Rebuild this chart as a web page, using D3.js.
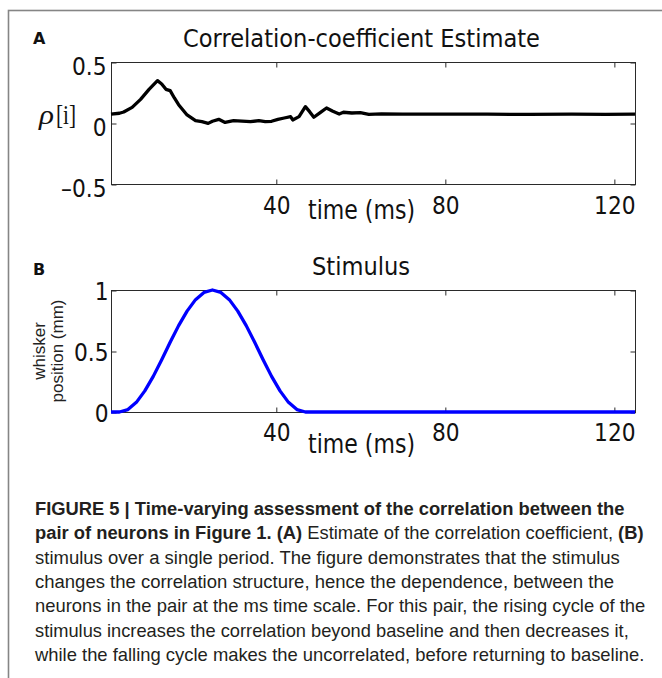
<!DOCTYPE html>
<html><head><meta charset="utf-8">
<script src="https://cdn.jsdelivr.net/npm/d3@7"></script>
<style>body{margin:0;background:#fff} svg{display:block}</style>
</head><body><svg id="c" width="662" height="678"></svg>
<script>
// ---- data ----
const rhoTime  = [1, 3, 4, 6, 8, 10, 12, 13, 14, 15, 16, 17, 19, 21, 22.5, 24, 25, 26.5, 28, 30, 32, 34, 36, 37.5, 39, 40.5, 42, 43.5, 44, 45.5, 47, 48, 49, 50.5, 52, 53.5, 55, 56, 58, 60, 62, 65, 70, 80, 90, 100, 110, 118, 125];
const rhoValue = [0.072, 0.080, 0.090, 0.128, 0.194, 0.276, 0.347, 0.320, 0.276, 0.265, 0.205, 0.150, 0.066, 0.019, 0.011, -0.003, 0.014, 0.030, 0.005, 0.019, 0.016, 0.011, 0.019, 0.011, 0.014, 0.030, 0.041, 0.052, 0.025, 0.052, 0.134, 0.093, 0.047, 0.085, 0.123, 0.096, 0.074, 0.088, 0.082, 0.085, 0.071, 0.074, 0.072, 0.073, 0.072, 0.071, 0.072, 0.070, 0.072];
const stimTime  = [1, 3, 5, 7, 9, 11, 13, 15, 17, 19, 21, 23, 25, 27, 29, 31, 33, 35, 37, 39, 41, 43, 45, 47, 125];
const stimValue = [0, 0, 0.020, 0.079, 0.173, 0.292, 0.429, 0.571, 0.708, 0.827, 0.921, 0.980, 1.0, 0.980, 0.921, 0.827, 0.708, 0.571, 0.429, 0.292, 0.173, 0.079, 0.020, 0, 0];
const xDomain = [1, 125];
const xTicks = [40, 80, 120];
const rhoTicks = [-0.5, 0, 0.5];
const rhoTickLabels = ["\u20130.5", "0", "0.5"];
const stimTicks = [0, 0.5, 1];
const stimTickLabels = ["0", "0.5", "1"];
const panelLetters = ["A", "B"];
const panelTitles = ["Correlation-coefficient Estimate", "Stimulus"];
const xLabel = "time (ms)";
const rhoYLabel = ["\u03C1", "[i]"];
const stimYLabel = ["whisker", "position (mm)"];
const captionLines = [
  [["FIGURE 5 | Time-varying assessment of the correlation between the", true]],
  [["pair of neurons in Figure 1. (A)", true], [" Estimate of the correlation coefficient, ", false], ["(B)", true]],
  [["stimulus over a single period. The figure demonstrates that the stimulus", false]],
  [["changes the correlation structure, hence the dependence, between the", false]],
  [["neurons in the pair at the ms time scale. For this pair, the rising cycle of the", false]],
  [["stimulus increases the correlation beyond baseline and then decreases it,", false]],
  [["while the falling cycle makes the uncorrelated, before returning to baseline.", false]]
];
const captionRight = [625, 644, 620, 614, 646, 629, 645];

// ---- drawing ----
const svg = d3.select("#c");
svg.append("rect").attr("width", 662).attr("height", 678).attr("fill", "#fff");
svg.append("rect").attr("x", 8.5).attr("y", 10.5).attr("width", 720).attr("height", 720)
  .attr("fill", "none").attr("stroke", "#858585").attr("stroke-width", 1.6);

const L = 111, R = 635;
const x = d3.scaleLinear().domain(xDomain).range([L, R]);
const tickFont = "DejaVu Sans";
const squeeze = 0.87;

function squeezeText(sel, k) {
  sel.each(function () {
    const w = this.getComputedTextLength();
    d3.select(this).attr("textLength", w * k).attr("lengthAdjust", "spacingAndGlyphs");
  });
}

function panel(cfg) {
  const y = d3.scaleLinear().domain(cfg.yDomain).range([cfg.bottom, cfg.top]);
  const g = svg.append("g");
  g.append("rect").attr("x", L + 0.5).attr("y", cfg.top + 0.5)
    .attr("width", R - L).attr("height", cfg.bottom - cfg.top)
    .attr("fill", "none").attr("stroke", "#2a2a2a").attr("stroke-width", 1);
  const gb = g.append("g").attr("transform", `translate(0.5,${cfg.bottom + 0.5})`)
    .call(d3.axisBottom(x).tickValues(xTicks).tickSizeInner(-5).tickSizeOuter(0));
  gb.select(".domain").remove();
  gb.attr("font-family", tickFont).attr("font-size", 25).attr("color", "#2a2a2a");
  gb.selectAll("text").attr("y", cfg.xTickDy).attr("dy", null).attr("fill", "#111").call(squeezeText, squeeze);
  const gt = g.append("g").attr("transform", `translate(0.5,${cfg.top + 0.5})`)
    .call(d3.axisTop(x).tickValues(xTicks).tickSizeInner(-5).tickSizeOuter(0).tickFormat(""));
  gt.select(".domain").remove();
  gt.attr("color", "#2a2a2a");
  const gl = g.append("g").attr("transform", `translate(${L + 0.5},0.5)`)
    .call(d3.axisLeft(y).tickValues(cfg.yTicks).tickSizeInner(-5).tickSizeOuter(0)
      .tickFormat((d, i) => cfg.yTickLabels[i]));
  gl.select(".domain").remove();
  gl.attr("font-family", tickFont).attr("font-size", 25).attr("color", "#2a2a2a");
  gl.selectAll("text").attr("x", cfg.yLabelX).attr("dy", null).attr("y", cfg.yLabelDy).attr("fill", "#111").call(squeezeText, squeeze);
  const gr = g.append("g").attr("transform", `translate(${R + 0.5},0.5)`)
    .call(d3.axisRight(y).tickValues(cfg.yTicks).tickSizeInner(-5).tickSizeOuter(0).tickFormat(""));
  gr.select(".domain").remove();
  gr.attr("color", "#2a2a2a");
  const line = d3.line().x(d => x(d[0])).y(d => y(d[1]));
  g.append("path").datum(d3.zip(cfg.t, cfg.v)).attr("d", line)
    .attr("fill", "none").attr("stroke", cfg.color).attr("stroke-width", cfg.lw)
    .attr("stroke-linejoin", "round").attr("stroke-linecap", "butt");
  g.append("text").attr("x", cfg.titleX).attr("y", cfg.titleY).attr("text-anchor", "middle")
    .attr("font-family", tickFont).attr("font-size", 25).attr("fill", "#111")
    .attr("textLength", cfg.titleW).attr("lengthAdjust", "spacingAndGlyphs").text(cfg.title);
  g.append("text").attr("x", 361.5).attr("y", cfg.xLabelY).attr("text-anchor", "middle")
    .attr("font-family", tickFont).attr("font-size", 26).attr("fill", "#111")
    .attr("textLength", 107).attr("lengthAdjust", "spacingAndGlyphs").text(xLabel);
  g.append("text").attr("x", 33).attr("y", cfg.letterY)
    .attr("font-family", "DejaVu Sans").attr("font-weight", "bold").attr("font-size", 16)
    .attr("fill", "#111").text(cfg.letter);
  return {g, y};
}

const pA = panel({
  top: 62, bottom: 184, yDomain: [-0.5, 0.5], yTicks: rhoTicks, yTickLabels: rhoTickLabels,
  yLabelX: -5, yLabelDy: 12, xTickDy: 29, t: rhoTime, v: rhoValue, color: "#000", lw: 3.3,
  title: panelTitles[0], titleX: 361.5, titleY: 47, titleW: 357, xLabelY: 219,
  letter: panelLetters[0], letterY: 44
});
pA.g.append("text").attr("x", 39).attr("y", 124)
  .attr("font-family", "Liberation Serif").attr("font-style", "italic").attr("font-size", 28)
  .attr("fill", "#111").attr("textLength", 15).attr("lengthAdjust", "spacingAndGlyphs").text(rhoYLabel[0]);
pA.g.append("text").attr("x", 56).attr("y", 124)
  .attr("font-family", "Liberation Serif").attr("font-size", 28)
  .attr("fill", "#111").attr("textLength", 20).attr("lengthAdjust", "spacingAndGlyphs").text(rhoYLabel[1]);

const pB = panel({
  top: 290, bottom: 412, yDomain: [0, 1], yTicks: stimTicks, yTickLabels: stimTickLabels,
  yLabelX: -3, yLabelDy: 9, xTickDy: 28, t: stimTime, v: stimValue, color: "#0000ff", lw: 3.3,
  title: panelTitles[1], titleX: 361, titleY: 275, titleW: 98, xLabelY: 453,
  letter: panelLetters[1], letterY: 275
});
stimYLabel.forEach((s, i) => {
  svg.append("text").attr("transform", `translate(${45 + i * 18},351) rotate(-90)`)
    .attr("text-anchor", "middle").attr("font-family", "Liberation Sans").attr("font-size", 17)
    .attr("fill", "#222").text(s);
});

captionLines.forEach((parts, i) => {
  const yy = 515 + i * 24.3;
  const gg = svg.append("g").attr("transform", `translate(35,${yy})`);
  const t = gg.append("text").attr("x", 0).attr("y", 0)
    .attr("font-family", "Liberation Sans").attr("font-size", 18).attr("fill", "#231f20");
  parts.forEach(p => t.append("tspan").attr("font-weight", p[1] ? "bold" : "normal").text(p[0]));
  const w = t.node().getComputedTextLength();
  const target = captionRight[i] - 35;
  gg.attr("transform", `translate(35,${yy}) scale(${target / w},1)`);
});
</script>
</body></html>
